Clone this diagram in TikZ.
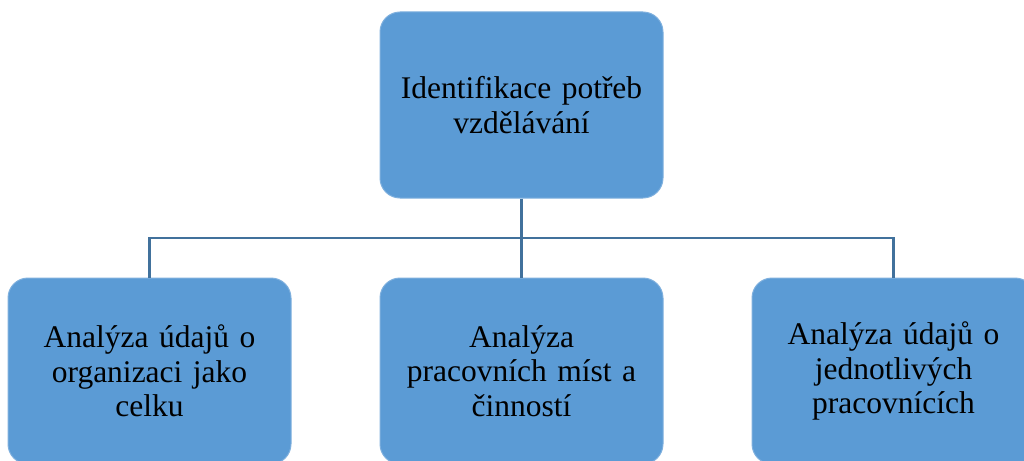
\documentclass[tikz,border=0pt]{standalone}
\usepackage{fontspec}
\setmainfont{Liberation Serif}
\definecolor{boxfill}{HTML}{5B9BD5}
\definecolor{boxedge}{HTML}{7FB0DE}
\definecolor{linkcol}{HTML}{41719C}
\begin{document}
\begin{tikzpicture}[x=1pt,y=-1pt,
  orgbox/.style={draw=boxedge, line width=1pt, fill=boxfill, rounded corners=20pt,
    minimum width=283pt, minimum height=186pt, text width=270pt, align=center,
    font=\fontsize{31.5}{34.5}\selectfont, inner sep=0pt},
  link/.style={draw=linkcol, line width=2.6pt}]
\useasboundingbox (0,0) rectangle (1024,460);
\node[orgbox] (top) at (521.5,105) {Identifikace potřeb\\vzdělávání};
\node[orgbox] (left) at (149.5,371) {Analýza údajů o\\organizaci jako\\celku};
\node[orgbox] (mid) at (521.5,371) {Analýza\\pracovních míst a\\\v{c}innost\'{\i}};
\node[orgbox] (right) at (893.5,371) {Analýza údajů o\\jednotlivých\\pracovnících};
\coordinate (bus) at (521.5,238);
\draw[link] (top.south) -- (mid.north);
\draw[link] (left.north) |- (bus) -| (right.north);
\end{tikzpicture}
\end{document}
